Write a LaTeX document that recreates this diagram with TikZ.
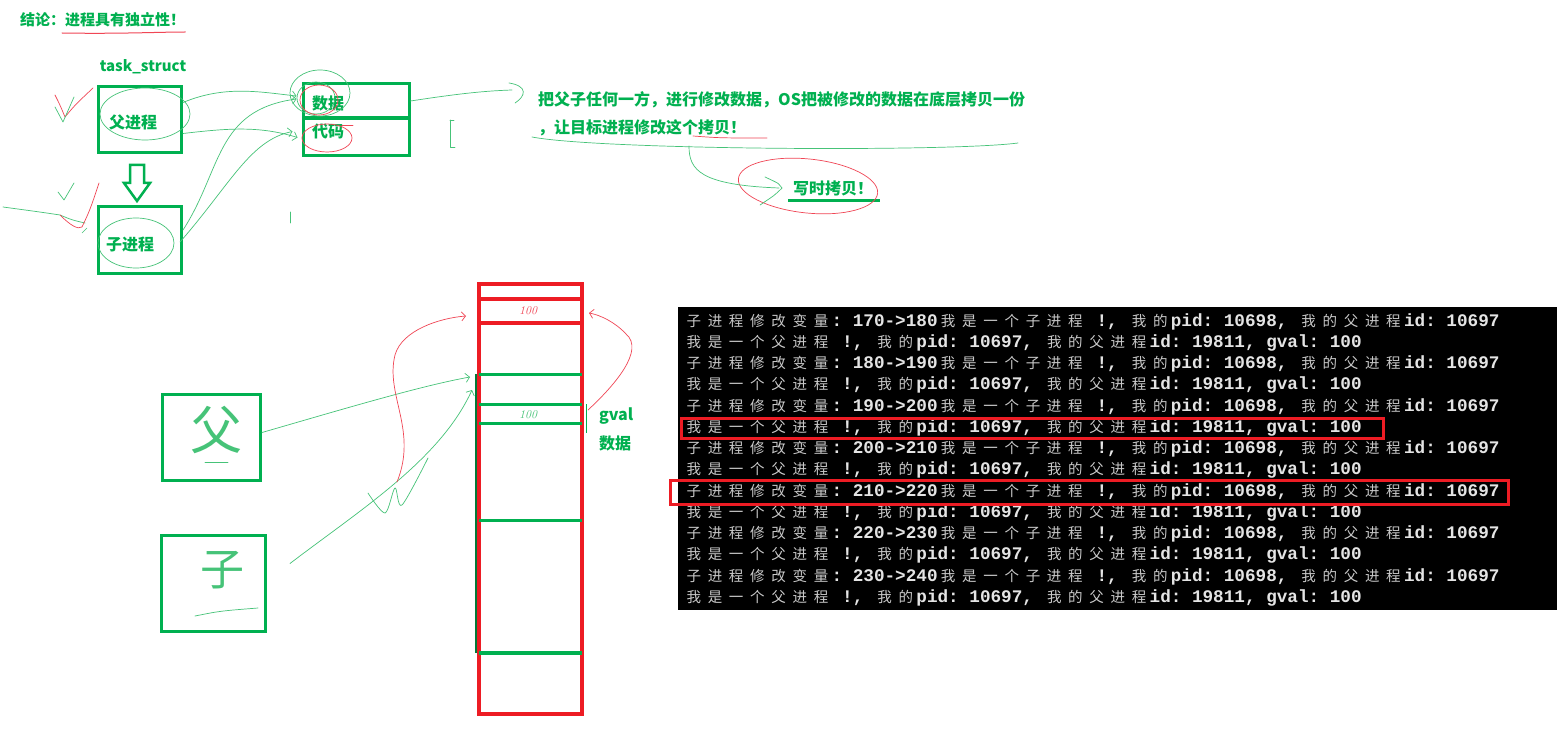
\documentclass[tikz,border=0pt]{standalone}
\usepackage{fontspec}
\usetikzlibrary{arrows.meta}
\newfontfamily\cjk{Noto Sans CJK SC}
\newfontfamily\mono{Liberation Mono}
\definecolor{grn}{RGB}{0,176,80}
\definecolor{rd}{RGB}{237,28,36}
\definecolor{lgrn}{RGB}{70,195,120}
\definecolor{lred}{RGB}{240,70,85}
\definecolor{tw}{RGB}{228,228,228}
\definecolor{tg}{RGB}{200,200,200}
\newcommand\zc[1]{\makebox[21.2pt][c]{\fontsize{14.5}{14.5}\cjk\mdseries\color{tg}#1}}
\def\zhs#1{\zhloop#1\relax}
\def\zhloop#1{\ifx\relax#1\else\zc{#1}\expandafter\zhloop\fi}
\newcommand\childl[2]{\zhs{子进程修改变量}: #1->#2\zhs{我是一个子进程} !, \zhs{我的}pid: 10698, \zhs{我的父进程}id: 10697}
\newcommand\parentl{\zhs{我是一个父进程} !, \zhs{我的}pid: 10697, \zhs{我的父进程}id: 19811, gval: 100}
\newcommand\termfont{\fontsize{17.67}{18}\mono\bfseries\spaceskip 10.6pt\relax\xspaceskip 10.6pt\relax}
\tikzset{
  gtext/.style={inner sep=0, text=grn, font=\fontsize{16}{16}\cjk\bfseries},
  gbox/.style={draw=grn, line width=3pt, inner sep=0},
  hand/.style={draw=lgrn, line width=0.7pt, line cap=round, line join=round},
  handr/.style={draw=lred, line width=0.7pt, line cap=round, line join=round},
  htip/.style={-{Straight Barb[length=4pt,width=9pt]}},
  term/.style={anchor=base west, inner sep=0, text=tw, font=\termfont},
  hl/.style={draw=rd, line width=3pt},
}
\begin{document}
\begin{tikzpicture}[x=1pt,y=-1pt]
\useasboundingbox (0,0) rectangle (1557,743);
\fill[white] (0,0) rectangle (1557,743);

% ---- title
\node[gtext, anchor=west, font=\fontsize{15}{15}\cjk\bfseries] (title) at (20,20) {结论：进程具有独立性！};
\draw[handr, line width=1pt] ([xshift=42,yshift=-13]title.west) .. controls (120,34) and (160,32) .. ([yshift=-12]title.east);

% ---- task_struct
\node[gtext, font=\fontsize{15}{15}\cjk\bfseries] (ts) at (143,67) {task\_struct};
\node[gbox, minimum width=83, minimum height=66] (par) at (140,119.5) {};
\node[gtext] (parl) at (133,122) {父进程};
\draw[grn, line width=2.5pt, line join=miter] (130,165) -- (144,165) -- (144,183) -- (150,183) -- (137,201) -- (124,183) -- (130,183) -- cycle;
\node[gbox, minimum width=83, minimum height=67] (chi) at (140,240) {};
\node[gtext] (chil) at (130,245) {子进程};

\node[gbox, minimum width=106, minimum height=34, anchor=north west] (data) at (301.5,82.5) {};
\node[gbox, minimum width=106, minimum height=37, anchor=north west] (code) at (301.5,117.5) {};
\node[gtext] (datal) at (328,103) {数据};
\node[gtext] (codel) at (328,131) {代码};

% scribbles around labels
\draw[hand] (145,114) ellipse [x radius=45, y radius=26];
\draw[hand] (136,243) ellipse [x radius=38, y radius=25];
\draw[hand] (320,93) ellipse [x radius=30, y radius=23];
\draw[hand] (316,98) ellipse [x radius=19, y radius=16];
\draw[handr] (319,100) ellipse [x radius=19, y radius=15];
\draw[handr] (327,138) ellipse [x radius=25, y radius=14];
\draw[handr] (342,125) -- (353,125);

% check marks
\draw[handr] (55,95) .. controls (60,105) .. (65,117) .. controls (75,105) .. (93,88);
\draw[hand] (55,107) -- (63,122) -- (74,97);
\draw[hand] (58,192) -- (64,200) -- (74,183);
\draw[hand] (3,207) .. controls (40,212) .. (60,215) .. controls (72,220) .. (85,223);
\draw[handr] (60,215) .. controls (70,225) and (78,230) .. (82,227) .. controls (90,210) .. (99,183);
\draw[hand] (82,233) -- (87,228);
\draw[hand] (290,212) -- (290,223);

% connectors task_struct -> data/code
\draw[hand, htip] ([yshift=17]par.east) .. controls (225,85) and (260,92) .. ([xshift=-5,yshift=5]data.west);
\draw[hand, htip] ([yshift=-14]par.east) .. controls (230,128) and (260,126) .. ([xshift=-4]code.west);
\draw[hand, htip] ([yshift=10]chi.east) .. controls (222,170) and (215,110) .. ([xshift=-5,yshift=2]data.west);
\draw[hand, htip] ([xshift=-3,yshift=-2]chi.east) .. controls (230,185) and (250,140) .. ([xshift=-9,yshift=6]code.west);

% ---- explanation text
\node[gtext, anchor=west] (tl1) at (538,100) {把父子任何一方，进行修改数据，OS把被修改的数据在底层拷贝一份};
\node[gtext, anchor=west] (tl2) at (538,128) {，让目标进程修改这个拷贝！};
\coordinate (tip1) at (512,90);
\draw[hand] (data.east) .. controls (450,95) and (480,91) .. (tip1);
\draw[hand] (509,83) .. controls (528,86) and (526,96) .. (515,103);
\draw[hand] (450,120) -- (454,120) (450,120) -- (450,147) -- (455,147);
\draw[handr] (693,136) .. controls (720,138) .. (767,138);
\draw[hand] (532,137) .. controls (600,150) and (950,152) .. (1018,143);

\node[gtext, anchor=west] (cow) at (793,188) {写时拷贝！};
\draw[grn, line width=3pt] ([xshift=-5,yshift=-13]cow.west) -- (880,201);
\draw[handr] (808,186) ellipse [x radius=70, y radius=27, rotate=-6];
\draw[hand] (689,146) .. controls (689,170) and (700,185) .. ([xshift=-14]cow.west);
\draw[hand] (765,177) .. controls (780,184) .. (782,188) .. controls (775,195) .. (760,205);

% ---- memory column
\node[draw=rd, line width=4pt, minimum width=103, minimum height=430, inner sep=0] (mem) at (530.5,499) {};
\draw[rd, line width=4pt] (479,299) -- (582,299) (479,323) -- (582,323);
\draw[grn, line width=3pt] (479,374) -- (582,374) (479,404) -- (582,404) (479,423) -- (582,423) (479,520) -- (582,520);
\draw[grn, line width=4pt] (479,653) -- (582,653);
\draw[grn!70!black, line width=1.2pt] (476,374) -- (476,653);
\draw[grn, line width=1pt] (586,404) -- (586,433);
\node[inner sep=0, text=lred, font=\fontsize{12}{12}\itshape] (v1) at (528,311) {100};
\node[inner sep=0, text=lgrn, font=\fontsize{12}{12}\itshape] (v2) at (528,415) {100};
\node[gtext, anchor=west] (gv) at (599,416) {gval};
\node[gtext, anchor=west] (gvd) at (599,443) {数据};

% handwritten boxes
\node[gbox, minimum width=98, minimum height=86] (fu) at (211.5,437.5) {};
\node[inner sep=0, text=lgrn, font=\fontsize{52}{52}\cjk] (fut) at (216,430) {父};
\draw[hand] (205,462) -- (228,462);
\node[gbox, minimum width=104, minimum height=96] (zi) at (213.5,583.5) {};
\node[inner sep=0, text=lgrn, font=\fontsize{44}{44}\cjk] (zit) at (222,570) {子};
\draw[hand] (195,616) .. controls (220,611) .. (258,608);

% green arrows to memory
\coordinate (g1) at (470,377);
\coordinate (g2) at (472,390);
\draw[hand, htip] ([yshift=5]fu.east) .. controls (340,410) and (420,386) .. (g1);
\draw[hand, htip] ([xshift=23,yshift=20]zi.east) .. controls (360,510) and (440,460) .. (g2);
\draw[hand] plot[smooth] coordinates {(368,493) (385,513) (395,488) (402,505) (428,458)};

% red arrows
\coordinate (w1) at (397,482);
\coordinate (m1) at (466,316);
\coordinate (m2) at (589,313);
\draw[handr, htip] (w1) .. controls (418,430) and (385,395) .. (395,355) .. controls (402,330) and (440,318) .. (m1);
\draw[handr, htip] ([xshift=4,yshift=89]mem.east) .. controls (615,385) and (645,350) .. (626,334) .. controls (615,322) and (600,315) .. (m2);

% ---- terminal
\node[fill=black, inner sep=0, minimum width=879, minimum height=303, anchor=north west] (term) at (678,307) {};
\node[term] (l1) at (683,326) {\childl{170}{180}};
\node[term] (l2) at (683,347.25) {\parentl};
\node[term] (l3) at (683,368.5) {\childl{180}{190}};
\node[term] (l4) at (683,389.75) {\parentl};
\node[term] (l5) at (683,411) {\childl{190}{200}};
\node[term] (l6) at (683,432.25) {\parentl};
\node[term] (l7) at (683,453.5) {\childl{200}{210}};
\node[term] (l8) at (683,474.75) {\parentl};
\node[term] (l9) at (683,496) {\childl{210}{220}};
\node[term] (l10) at (683,517.25) {\parentl};
\node[term] (l11) at (683,538.5) {\childl{220}{230}};
\node[term] (l12) at (683,559.75) {\parentl};
\node[term] (l13) at (683,581) {\childl{230}{240}};
\node[term] (l14) at (683,602.25) {\parentl};
\draw[hl] (681,418) rectangle (1383,438);
\draw[hl] (670,480) rectangle (1508,504);
\end{tikzpicture}
\end{document}
